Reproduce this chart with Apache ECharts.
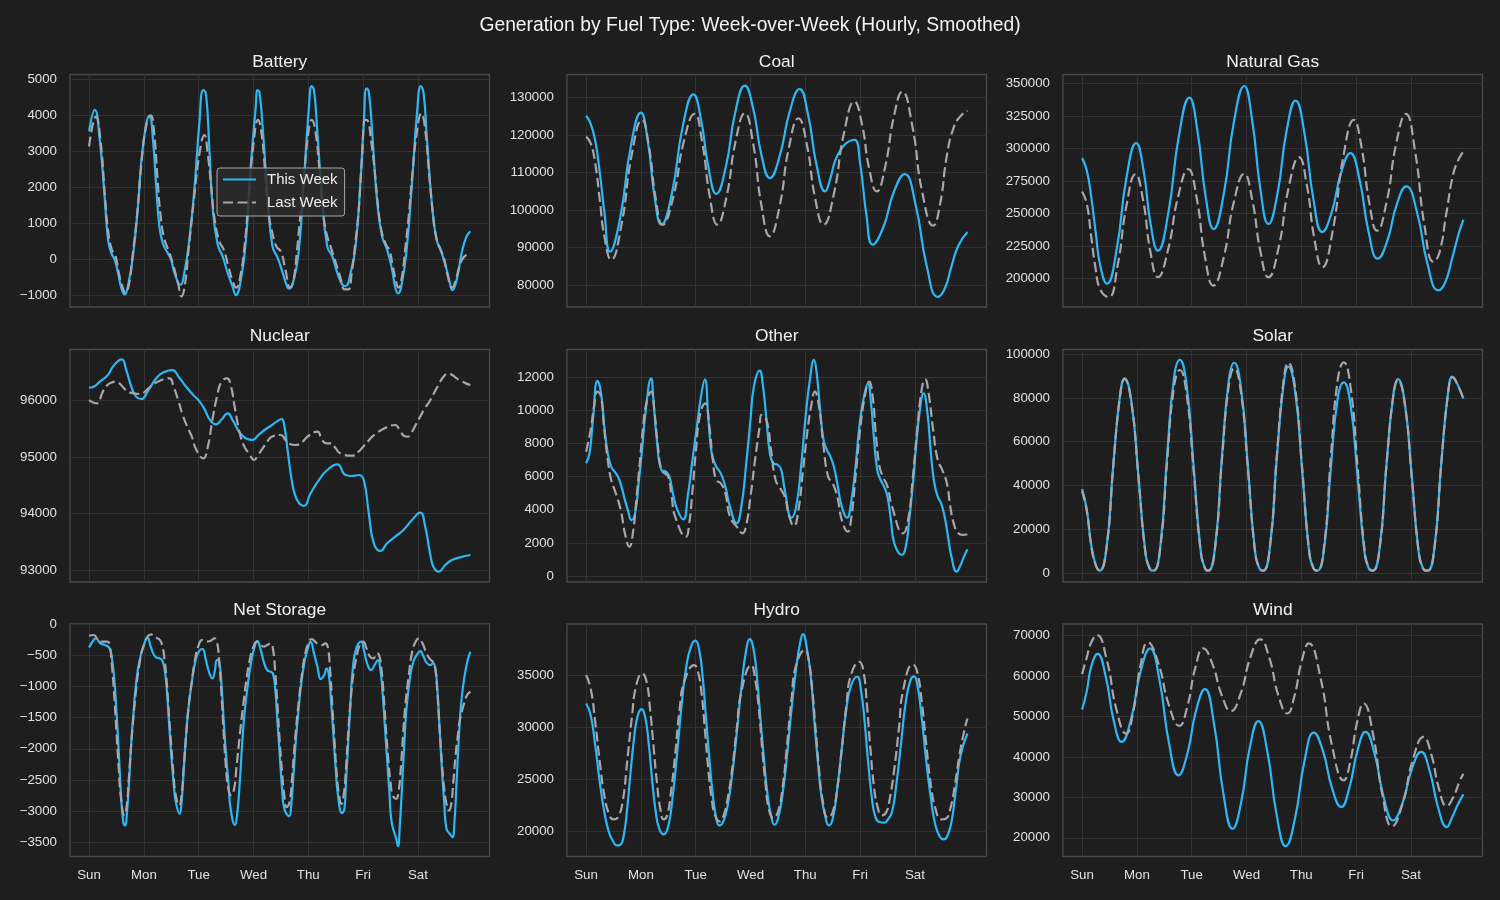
<!DOCTYPE html>
<html>
<head>
<meta charset="utf-8">
<script src="https://cdn.jsdelivr.net/npm/echarts@6/dist/echarts.min.js"></script>
<style>html,body{margin:0;padding:0;background:#1e1e1e}#c{width:1500px;height:900px}</style>
</head>
<body>
<div id="c"></div>
<script>
// ---------------- DATA (hour of week, MW) ----------------
const dayLabels = ['Sun','Mon','Tue','Wed','Thu','Fri','Sat'];
const seriesNames = ['This Week','Last Week'];
const chartTitle = 'Generation by Fuel Type: Week-over-Week (Hourly, Smoothed)';
const panelTitles = ['Battery','Coal','Natural Gas','Nuclear','Other','Solar','Net Storage','Hydro','Wind'];

const batteryThis = [[0,3550],[2.5,4150],[4.7,3300],[6.8,1740],[8.3,540],[9.7,170],[11.2,-20],[12.7,-390],[14.1,-800],[15.6,-990],[17,-760],[19.2,70],[21.4,1460],[23.6,3130],[26.5,3990],[28,3300],[29.4,2020],[30.8,900],[32.3,440],[34.4,170],[35.9,-20],[37.4,-390],[40,-720],[41.7,-390],[43.9,540],[46.1,1930],[48.3,3780],[50,4700],[51.2,4600],[52.7,3040],[54.1,1460],[56.3,400],[58.5,70],[60.7,-390],[62.8,-760],[64.3,-1010],[66.5,-570],[68.7,540],[70.8,2570],[73,4240],[73.8,4700],[74.6,4650],[76.1,3590],[78.3,1650],[80.3,350],[82.6,30],[84.8,-390],[86.9,-800],[87.6,-830],[89.7,-570],[91.9,260],[94.1,2200],[96.3,4240],[97.5,4810],[98.5,4700],[99.9,3590],[102.1,1650],[104.3,350],[106.5,70],[108.7,-390],[110.8,-710],[112.3,-760],[114.5,-390],[116.7,350],[118.8,2110],[120.3,3780],[121.5,4750],[122.5,4650],[124,3500],[126.1,1650],[128.3,630],[130.5,260],[132.7,-300],[134.1,-800],[135.3,-960],[137,-670],[139.2,350],[141.4,2110],[143.6,4050],[145.3,4810],[146.5,4610],[147.9,3400],[150.1,1560],[152.2,540],[154.4,170],[156.6,-300],[158,-670],[159.1,-870],[161,-570],[163.2,170],[165.3,630],[167,770]];
const batteryLast = [[0,3130],[3,3960],[5,3300],[7,1700],[8.5,700],[10,250],[11.5,100],[13,-380],[14.5,-750],[16,-945],[17.5,-700],[19,60],[21,1200],[23,2700],[25,3700],[27,4000],[28.5,3500],[30,2200],[31.5,1100],[33,550],[35,200],[37,-200],[39,-700],[40.5,-1040],[42,-700],[43.5,200],[46,1700],[48.5,3000],[50.5,3450],[52,2900],[53.5,2000],[55,1100],[57,500],[59,250],[61,-200],[62.8,-600],[64.5,-800],[66,-550],[68,300],[70,1800],[72,3200],[74,3870],[75.5,3500],[77,2500],[78.5,1300],[80,800],[82,350],[84,200],[86,-300],[88,-800],[89.5,-600],[91,200],[92.5,1200],[94,2200],[96,3500],[97.5,3870],[99,3600],[101,2400],[102.5,1300],[104,700],[106,300],[108,-100],[110,-500],[112,-850],[113.5,-850],[115,-400],[116.5,400],[118,1300],[119.5,2800],[121,3870],[122,3850],[123.5,3300],[125,2500],[126.5,1500],[128,800],[130,400],[131.5,250],[133,-200],[134.5,-650],[135.5,-800],[137,-500],[138.5,300],[140,1200],[141.5,2300],[143.5,3500],[145.5,4050],[147,3700],[149,2300],[150.5,1300],[152,600],[154,250],[155.5,0],[157,-450],[159,-800],[160.5,-600],[162,-250],[163.5,0],[165,100],[167,170]];

const coalThis = [[0,125100],[2,123000],[4,118500],[6,110000],[8,99500],[10.5,88900],[15,98150],[19.5,116650],[24,125900],[27,118450],[30,103550],[33,96100],[37.7,104775],[42.3,122125],[47,130800],[50.3,124175],[53.7,110925],[57,104300],[61.2,111500],[65.3,125900],[69.5,133100],[73.2,126950],[76.8,114650],[80.5,108500],[84.8,114425],[89.2,126275],[93.5,132200],[97.2,125390],[101,111760],[104.7,104950],[107,108500],[109,113000],[111.5,116000],[114,117800],[117.5,118700],[120,112500],[122.8,98500],[125.5,90800],[130.2,95490],[134.8,104860],[139.5,109550],[144.3,101390],[149.2,85060],[154,76900],[157,79000],[160,85000],[163,90500],[167,94150]];
const coalLast = [[0,119550],[2,117800],[4,112500],[6,102700],[8,93000],[11,86800],[15.5,96100],[20,114700],[24.5,124000],[27.5,117025],[30.5,103075],[33.5,96100],[38.2,103475],[42.8,118225],[47.5,125600],[50.8,118225],[54.2,103475],[57.5,96100],[61.5,103510],[65.5,118340],[69.5,125750],[73.2,117560],[76.8,101190],[80.5,93000],[84.7,100850],[88.8,116550],[93,124400],[96.7,117325],[100.3,103175],[104,96100],[108.5,104290],[113,120660],[117.5,128850],[120.8,122875],[124,110925],[127.3,104950],[131,111590],[134.8,124860],[138.5,131500],[142.8,122590],[147.2,104760],[152,95850],[155,101500],[158,114500],[161,122000],[164,125000],[167,126450]];

const gasThis = [[0,292500],[2,283500],[4,263000],[6,235000],[8,209500],[10.9,196100],[15.2,223075],[19.4,277025],[23.7,304000],[26.9,283360],[30,242090],[33.2,221450],[37.8,250840],[42.4,309610],[47,339000],[50.5,313760],[54.1,263290],[57.6,238050],[62.1,265525],[66.5,320475],[71,347950],[74.5,321440],[78.1,268410],[81.6,241900],[85.6,265600],[89.5,313000],[93.5,336700],[97.4,311460],[101.3,260990],[105.2,235750],[109.3,250890],[113.4,281160],[117.5,296300],[121.5,276050],[125.5,235550],[129.5,215300],[133.7,229160],[137.8,256890],[142,270750],[146.7,250810],[151.3,210940],[156,191000],[159,197000],[162,215000],[165,235000],[167,245200]];
const gasLast = [[0,266900],[2,257950],[4,232400],[6,206850],[8,191500],[11.6,185650],[15.5,209300],[19.5,256600],[23.4,280250],[26.7,260440],[29.9,220810],[33.2,201000],[37.6,221760],[42.1,263290],[46.5,284050],[50.2,261690],[53.8,216960],[57.5,194600],[62,216080],[66.5,259030],[71,280500],[74.5,260630],[78.1,220880],[81.6,201000],[86.1,224060],[90.5,270190],[95,293250],[98.4,272100],[101.8,229800],[105.2,208650],[109.8,236960],[114.4,293590],[119,321900],[122.4,300610],[125.8,258040],[129.2,236750],[133.4,259190],[137.6,304060],[141.8,326500],[145.8,298060],[149.9,241190],[153.9,212750],[156.5,220000],[159.5,250000],[162.5,280000],[165,292000],[167,297600]];

const nuclearThis = [[0,96224],[2,96242],[4.7,96330],[8.3,96450],[10.5,96600],[14.3,96725],[16.3,96536],[18.5,96242],[20.6,96065],[22.8,96024],[26,96183],[30,96418],[33.5,96510],[36.4,96536],[39.5,96400],[42.5,96240],[45.5,96100],[48,96000],[50.5,95850],[53,95650],[55.6,95576],[58,95660],[60.7,95770],[63,95640],[66,95430],[69,95320],[71.5,95300],[74,95380],[77,95480],[80,95560],[82,95620],[84.3,95670],[85.5,95550],[87,95100],[88.5,94650],[90,94350],[92,94180],[94.1,94132],[97,94356],[100.7,94592],[104.3,94768],[108.7,94869],[112.3,94680],[115.2,94662],[118.1,94680],[120.3,94592],[122.5,94000],[124.7,93472],[127.6,93336],[130.5,93472],[134.1,93590],[137.7,93708],[141.4,93884],[145,94014],[147.2,93767],[149.3,93295],[150.8,93059],[153.1,92971],[156,93089],[158.9,93177],[162.5,93224],[167,93266]];
const nuclearLast = [[0,96006],[2,95959],[3.5,95947],[6,96153],[8,96271],[10,96318],[12,96330],[14,96271],[16,96183],[18,96136],[20,96124],[22,96112],[24,96136],[26,96212],[28,96271],[30,96330],[35.2,96389],[37,96242],[39,96006],[41,95741],[43,95534],[45,95358],[47,95122],[50,94975],[52,95181],[54,95652],[56,96065],[58,96330],[60.5,96389],[62,96271],[64,95829],[66,95417],[68,95181],[70,95063],[72.3,94945],[74,95033],[76,95151],[78,95269],[80,95358],[84,95387],[86,95299],[88,95228],[90,95210],[92,95222],[94,95287],[96,95370],[100,95446],[102,95299],[104,95240],[106,95240],[108,95151],[110,95063],[115.2,95022],[118,95092],[120,95181],[122,95269],[124,95358],[126,95417],[128,95476],[134.1,95564],[136,95476],[138,95370],[139.5,95358],[141,95417],[143,95564],[145,95711],[147,95859],[149,95976],[151,96124],[153,96271],[155,96407],[157.4,96477],[159,96448],[161,96389],[163,96342],[165,96300],[167,96271]];

const otherThis = [[0,6810],[1.5,7410],[3,9430],[5,11780],[6.5,11100],[8,9020],[9.5,7410],[11,6610],[12.5,6300],[14,6000],[15.5,5400],[17,4600],[18.5,3890],[19.8,3380],[21.5,3800],[23,5600],[24.5,7600],[26,9830],[28.5,11940],[29.5,10630],[31,8220],[33,6400],[35,6300],[36.5,6000],[38,5000],[40,3990],[42.6,3420],[44.5,4800],[46.5,6900],[48.5,9000],[50.5,11000],[52,11880],[53.6,9430],[55,7410],[57,6610],[59,6200],[61,5400],[63,4190],[65.9,3180],[68,4190],[70,6610],[72,9430],[73.5,11440],[76,12400],[77.5,11440],[79,9430],[80.5,7410],[82,6810],[84,6710],[85.5,6400],[87,5200],[90,3520],[92,4190],[94,6400],[96,9430],[98,11840],[99.8,13050],[101,12250],[102.5,10030],[104,8220],[105.5,7610],[107,7210],[108.5,6610],[110,5600],[112,4190],[114.3,3520],[116,4390],[118,6610],[120,9430],[122,11040],[123.4,11640],[124.8,10400],[126,8420],[127.5,6400],[129,5800],[130.5,5400],[132,4790],[133.5,3380],[135,1970],[138.3,1270],[140,1770],[141.5,3380],[143,5400],[144.5,7810],[146,9830],[147.8,11040],[149.5,9830],[151,7410],[152.5,5600],[154,4790],[155.5,4390],[157,3590],[158.5,2380],[160,1170],[162.3,260],[164,665],[165.5,1170],[167,1610]];
const otherLast = [[0,7510],[2,8820],[3.5,10230],[5,11140],[6.5,10840],[8,8820],[9.5,7010],[11,5800],[12.5,5200],[14,4590],[15.5,3790],[17,2580],[19,1770],[20.5,2580],[22,4590],[23.5,6810],[25,9020],[26.5,10500],[28.5,11140],[30,9830],[31.5,7810],[33,6400],[34.5,6200],[36,6000],[37.5,4790],[39,3590],[43.8,2380],[45,2980],[46.5,5000],[48,7410],[50,9830],[52.2,10430],[54,9020],[55.5,7010],[57,5800],[59,5600],[61,5000],[63,3590],[66,2980],[68.5,2580],[70,2980],[72,4790],[74,7010],[76,9020],[76.8,9730],[79,9430],[81,7610],[83,5800],[85,5300],[87,4790],[89,3590],[91,3020],[93,3990],[95,6400],[97,8820],[98.5,10200],[100.2,11140],[102,10230],[104,7810],[106,6000],[108,5600],[110,4790],[112,3380],[114.6,2680],[116,3380],[118,6000],[120,8820],[122,10800],[124,11740],[125.5,10840],[127,8420],[128.5,6610],[130,6000],[132,5400],[134,4190],[138.8,2580],[141,3380],[143,5800],[145,8820],[147,11300],[148.5,11880],[150,11040],[152,8820],[154,7010],[156,6400],[158,5600],[159.5,4190],[161,3180],[163,2580],[165,2480],[167,2520]];

const solarThis = [[0,38450],[2,29500],[4,13000],[6,3800],[7.7,1200],[10.7,11600],[13.7,49800],[16.7,81800],[18.6,88900],[21.6,78200],[24.6,45300],[27.6,10700],[29.6,2200],[31.3,1200],[34.3,12650],[37.3,54500],[40.3,89500],[42.8,97300],[45.8,85600],[48.8,49600],[51.8,11700],[53.8,2400],[55.3,1200],[58.3,12500],[61.3,53800],[64.3,88300],[66.6,96000],[69.6,84500],[72.6,49000],[75.6,11500],[77.6,2400],[79.3,1200],[82.3,12250],[85.3,52750],[88.3,86700],[90.3,94200],[93.3,82900],[96.3,48000],[99.3,11300],[101.3,2350],[103,1200],[106,11300],[109,48800],[112,80100],[114.6,87100],[117.6,76650],[120.6,44400],[123.6,10450],[125.6,2200],[127.3,1200],[130.3,11500],[133.3,49560],[136.3,81400],[138.3,88500],[141.3,77900],[144.3,45100],[147.3,10600],[149.3,2200],[151.3,1200],[154.3,11660],[157.3,50230],[160.3,82500],[162.2,89700],[164.5,86000],[167,79650]];
const solarLast = [[0,37500],[2,29000],[4,12800],[6,3700],[7.7,1200],[10.7,11500],[13.7,49560],[16.7,81400],[18.6,88500],[21.6,77900],[24.6,45100],[27.6,10600],[29.6,2200],[31.3,1200],[34.3,12050],[37.3,51900],[40.3,85300],[42.8,92700],[45.8,81600],[48.8,47300],[51.8,11100],[53.8,2300],[55.3,1200],[58.3,12150],[61.3,52400],[64.3,86000],[66.6,93500],[69.6,82300],[72.6,47700],[75.6,11200],[77.6,2300],[79.3,1200],[82.3,12500],[85.3,53800],[88.3,88300],[90.3,96000],[93.3,84500],[96.3,49000],[99.3,11500],[101.3,2400],[103,1200],[106,12500],[109,53900],[112,88500],[114.6,96200],[117.6,84700],[120.6,49100],[123.6,11500],[125.6,2400],[127.3,1200],[130.3,11440],[133.3,49300],[136.3,81000],[138.3,88000],[141.3,77400],[144.3,44900],[147.3,10560],[149.3,2200],[151.3,1200],[154.3,11600],[157.3,50100],[160.3,82300],[162.2,89500],[164.5,85800],[167,79500]];

const storageThis = [[0,-371],[2,-252],[3,-226],[5,-306],[7,-333],[9,-387],[10,-548],[11,-870],[12,-1407],[13,-2051],[14,-2749],[15,-3179],[15.8,-3233],[16.5,-3072],[17.5,-2535],[18.5,-1890],[19.5,-1407],[20.5,-977],[22,-601],[24,-333],[25.6,-215],[27,-360],[29,-521],[31,-548],[32,-575],[33,-709],[34,-1031],[35,-1568],[36,-2105],[37,-2535],[38,-2857],[39.7,-3045],[40.5,-2857],[41.5,-2320],[42.5,-1783],[43.5,-1353],[45,-924],[46.5,-601],[48,-440],[49.7,-397],[51,-548],[52.5,-763],[54,-870],[55,-763],[56,-575],[57,-601],[58,-977],[59,-1568],[60,-2105],[61,-2535],[62,-2964],[63.9,-3222],[64.8,-3072],[66,-2535],[67,-1944],[68,-1461],[69.5,-977],[71,-601],[72.5,-360],[73.7,-269],[75,-387],[76.5,-601],[78,-736],[79.5,-763],[80.5,-789],[81.5,-1031],[82.5,-1568],[83.5,-2105],[84.5,-2642],[85.5,-2964],[87.6,-3082],[88.5,-2911],[89.5,-2427],[90.5,-1890],[91.5,-1461],[93,-924],[94.5,-575],[96,-360],[97,-279],[98.5,-467],[100,-682],[101.5,-881],[103,-816],[104,-709],[105,-816],[106,-1246],[107,-1783],[108,-2320],[109,-2749],[110.8,-3034],[111.8,-2964],[112.5,-2535],[113.5,-1890],[114.5,-1246],[115.5,-709],[117,-387],[119.1,-279],[120.5,-440],[122,-655],[123.5,-736],[125,-655],[126.5,-575],[127.5,-709],[128.5,-1085],[129.5,-1622],[130.5,-2159],[131.5,-2696],[132.5,-3179],[134.5,-3447],[135.3,-3566],[136,-3286],[137,-2642],[138,-1944],[139,-1353],[140.5,-870],[142,-601],[143.5,-494],[145,-430],[146.5,-521],[148,-628],[149.5,-655],[150.5,-628],[151.5,-682],[152.5,-1031],[153.5,-1675],[154.5,-2320],[155.5,-2857],[156.5,-3286],[158,-3367],[159.1,-3421],[160,-3179],[161,-2481],[162,-1783],[163,-1246],[164.5,-816],[166,-548],[167,-440]];
const storageLast = [[0,-183],[2,-172],[4,-252],[6,-279],[8,-279],[9,-333],[10,-655],[11,-1138],[12,-1729],[13,-2320],[14,-2803],[15.5,-3072],[16.5,-2911],[17.5,-2427],[19,-1675],[20.5,-1085],[22,-655],[24,-333],[27.2,-161],[28.5,-199],[30,-226],[31,-252],[32,-333],[33,-548],[34,-924],[35,-1461],[36,-1944],[37,-2427],[38,-2749],[39.5,-2911],[40.5,-2749],[41.5,-2266],[42.5,-1783],[43.5,-1353],[45,-924],[46.5,-548],[48,-333],[49.5,-252],[51,-279],[53,-269],[55,-226],[56,-279],[57,-601],[58,-1138],[59,-1783],[60,-2320],[61,-2642],[62.3,-2749],[63.5,-2642],[64.5,-2320],[66,-1783],[67.5,-1300],[69,-870],[70.5,-548],[72,-360],[73.5,-279],[75,-322],[76.5,-360],[78,-333],[79.5,-306],[80.5,-387],[81.5,-763],[82.5,-1300],[83.5,-1890],[84.5,-2374],[85.5,-2749],[86.5,-2937],[87.8,-2857],[89,-2427],[90,-1944],[91.5,-1353],[93,-870],[94.5,-494],[96,-306],[97.5,-236],[99,-279],[100.5,-322],[102,-333],[103.5,-306],[104.5,-360],[105.5,-709],[106.5,-1300],[107.5,-1890],[108.5,-2427],[109.5,-2749],[110.5,-2884],[111.5,-2749],[112.5,-2320],[113.5,-1729],[114.5,-1246],[115.5,-870],[117,-548],[118.5,-333],[120,-279],[121.5,-387],[123,-521],[124.5,-548],[126,-467],[127,-494],[128,-709],[129,-1138],[130,-1675],[131,-2159],[132,-2535],[133,-2749],[134.5,-2803],[135.5,-2696],[136.5,-2320],[137.5,-1783],[138.5,-1300],[140,-816],[141.5,-440],[143,-279],[144.5,-226],[146,-306],[147.5,-440],[149,-548],[150.5,-601],[151.5,-682],[152.5,-1085],[153.5,-1675],[154.5,-2212],[155.5,-2642],[156.5,-2884],[157.5,-2991],[158.5,-2911],[159.5,-2535],[160.5,-2105],[161.5,-1783],[162.5,-1514],[164,-1300],[165.5,-1138],[167,-1085]];

const hydroThis = [[0,32300],[2,31200],[4,28300],[6,24750],[8,21870],[10,19940],[12,18980],[13.5,18656],[15,18720],[16.5,19620],[18,22190],[19.5,25720],[21,28930],[22.5,31020],[24.3,31757],[26,30850],[27.5,28300],[29,24800],[30.5,21900],[32,20300],[34,19715],[36,20500],[38,23500],[40,27800],[42,32500],[44,36000],[46,37800],[47.9,38339],[49.5,37500],[51,35000],[52.5,31000],[54,27000],[55.5,23500],[57,21300],[58.3,20582],[60,20900],[62,22500],[64,25500],[66,29500],[68,33800],[70,37300],[71.7,38500],[73.5,37300],[75,34400],[76.5,30500],[78,26700],[79.5,23500],[81,21550],[82.5,20647],[84,21200],[86,23500],[88,27300],[90,31800],[92,35700],[93.7,38100],[95,38982],[96.7,37600],[98.5,34700],[100,30500],[101.5,26700],[103,23500],[104.7,21500],[106.3,20582],[108,21200],[110,24100],[112,28000],[114,31800],[116,34000],[118.7,34872],[120.5,33400],[122,30500],[123.5,26700],[125,23500],[126.5,21550],[128.5,20900],[130.6,20839],[132,21100],[134,21900],[136,24750],[138,28600],[140,32460],[142,34500],[143.6,34904],[145,34230],[147,30860],[149,26680],[151,23150],[153,20580],[155,19460],[156.5,19234],[158,19460],[160,20900],[162,24100],[164,27300],[167,29413]];
const hydroLast = [[0,35032],[2,33748],[4,30537],[6,26683],[8,23472],[10,21706],[12,21160],[14,21385],[16,22830],[18,26683],[20,30857],[22,34069],[24.6,35193],[26.5,34390],[28,31821],[29.5,28290],[31,24757],[32.5,22188],[34,21160],[35.5,21546],[37,23472],[39,27325],[41,31821],[43,34390],[47.4,35995],[49,35353],[50.5,33427],[52,29895],[53.5,26041],[55,23151],[56.5,21546],[58.5,20968],[60,21385],[62,23151],[64,26041],[66,29895],[68,33427],[72.4,35995],[74,34711],[75.5,32142],[77,28290],[78.5,24757],[80,22188],[82,21289],[84,21867],[86,24115],[88,28290],[90,32784],[92,35995],[95.9,37440],[97.5,36477],[99,33748],[100.5,29895],[102,26041],[103.5,23151],[106,21289],[108,21867],[110,24115],[112,27967],[114,32142],[116,35032],[119.7,36317],[121.5,35353],[123,32142],[124.5,27967],[126,24436],[127.5,22509],[129.5,21546],[131.5,21867],[133,23151],[135,26041],[137,29895],[139,33748],[143.1,36060],[145,35353],[147,32463],[149,28290],[151,24436],[153,22188],[155.5,21160],[157.5,21225],[159.5,22188],[161.5,24436],[163.5,27325],[165.5,29574],[167,30857]];

const windThis = [[0,51700],[2,56100],[4,62300],[6.8,65500],[10.3,60055],[13.8,49165],[17.3,43720],[21.5,49505],[25.6,61075],[29.8,66860],[33.9,59010],[38.1,43307],[42.2,35456],[46.1,40786],[49.9,51446],[53.8,56777],[57.8,48141],[61.9,30869],[65.9,22233],[69.7,28886],[73.4,42190],[77.2,48843],[81.2,41117],[85.2,25664],[89.2,17937],[93.3,24961],[97.4,39010],[101.5,46034],[105.5,41427],[109.5,32213],[113.5,27606],[117,32255],[120.6,41552],[124.1,46200],[128.1,40725],[132.2,29775],[136.2,24300],[140.3,28535],[144.4,37006],[148.5,41241],[152.2,36593],[156,27296],[159.7,22647],[162,25000],[164.5,28200],[167,30744]];
const windLast = [[0,60500],[2,64500],[4,68300],[6.5,70165],[10.8,64071],[15,51882],[19.3,45787],[22.5,51427],[25.6,62707],[28.8,68347],[33.4,63182],[38,52851],[42.6,47686],[46.1,52480],[49.6,62067],[53.1,66860],[57.1,62976],[61.2,55207],[65.2,51323],[69.5,55765],[73.7,64649],[78,69091],[82,64505],[85.9,55332],[89.9,50745],[93,55084],[96.2,63761],[99.3,68099],[104.4,59628],[109.5,42687],[114.6,34216],[117.5,38968],[120.4,48472],[123.3,53224],[127.4,45621],[131.6,30415],[135.7,22812],[140.3,28349],[144.9,39423],[149.5,44960],[152.9,40683],[156.3,32130],[159.7,27853],[162.5,30000],[165.5,34200],[167,35800]];

// ---------------- LAYOUT / STYLE ----------------
const FONT = '"Liberation Sans", Arial, Helvetica, sans-serif';
const BG = '#1e1e1e';
const BLUE = '#2cb7f5';
const GRAY = '#a6a6ac';
const GRIDC = '#333333';
const TXT = '#e0e0e0';
const colLeft = [70, 567, 1063];
const rowTop = [74.5, 349.5, 624];
const PW = 419.5, PH = 232.5;
const XMIN = -8.35, XMAX = 175.35;

const panels = [
  {d:[batteryThis, batteryLast], min:-1338, max:5134, step:1000},
  {d:[coalThis, coalLast], min:74204, max:136062, step:10000},
  {d:[gasThis, gasLast], min:178151, max:356770, step:25000},
  {d:[nuclearThis, nuclearLast], min:92788, max:96899, step:1000},
  {d:[otherThis, otherLast], min:-362, max:13681, step:2000},
  {d:[solarThis, solarLast], min:-3953, max:102052, step:20000},
  {d:[storageThis, storageLast], min:-3731, max:5, step:500},
  {d:[hydroThis, hydroLast], min:17591, max:39946, step:5000},
  {d:[windThis, windLast], min:15372, max:72893, step:10000}
];

function yFmt(step) {
  return function (v) {
    const k = Math.round(v / step);
    if (Math.abs(v - k * step) > step * 1e-6) return '';
    const n = Math.round(v);
    return n < 0 ? '\u2212' + Math.abs(n) : String(n);
  };
}
function xFmt(v) {
  const k = Math.round(v / 24);
  if (Math.abs(v - k * 24) > 1e-6 || k < 0 || k >= dayLabels.length) return '';
  return dayLabels[k];
}

const grids = [], xAxes = [], yAxes = [], series = [], graphics = [];
graphics.push({type:'text', x:750, y:26, silent:true,
  style:{text:chartTitle, fill:'#f2f2f2', font:'19.3px ' + FONT, textAlign:'center', textVerticalAlign:'middle', align:'center', verticalAlign:'middle'}});
const titleY = [61.8, 335.8, 610];

panels.forEach((p, i) => {
  const r = Math.floor(i / 3), c = i % 3;
  grids.push({left: colLeft[c], top: rowTop[r], width: PW, height: PH, show: true,
    backgroundColor: BG, borderColor: '#4a4a4a', borderWidth: 1.3, containLabel: false});
  xAxes.push({type:'value', gridIndex:i, min:XMIN, max:XMAX, minInterval:24, maxInterval:24, splitNumber:7,
    axisLine:{show:false}, axisTick:{show:false}, splitLine:{show:false},
    axisLabel:{show: r === 2, color: TXT, fontSize:13.3, fontFamily:FONT, margin:12, formatter:xFmt}});
  yAxes.push({type:'value', gridIndex:i, min:p.min, max:p.max, minInterval:p.step, maxInterval:p.step, splitNumber:6,
    axisLine:{show:false}, axisTick:{show:false},
    splitLine:{show:true, showMinLine:false, showMaxLine:false, lineStyle:{color:GRIDC, width:1}},
    axisLabel:{color: TXT, fontSize:13.3, fontFamily:FONT, margin:13, formatter:yFmt(p.step)}});
  // vertical day grid lines via the x scale
  series.push({name:'_grid', type:'line', xAxisIndex:i, yAxisIndex:i, data:[], silent:true, z:1,
    markLine:{silent:true, symbol:['none','none'], label:{show:false}, animation:false, z:1,
      lineStyle:{color:GRIDC, width:1, type:'solid'}, emphasis:{disabled:true},
      data: dayLabels.map((d, k) => ({xAxis: k * 24}))}});
  series.push({name:seriesNames[0], type:'line', xAxisIndex:i, yAxisIndex:i, data:p.d[0], smooth:true,
    symbol:'none', showSymbol:false, z:3, lineStyle:{color:BLUE, width:2.2}, itemStyle:{color:BLUE, opacity:0}});
  series.push({name:seriesNames[1], type:'line', xAxisIndex:i, yAxisIndex:i, data:p.d[1], smooth:true,
    symbol:'none', showSymbol:false, z:4, lineStyle:{color:GRAY, width:2.2, type:[10, 4.4]}, itemStyle:{color:GRAY, opacity:0}});
  graphics.push({type:'text', x: colLeft[c] + PW / 2, y: titleY[r], silent:true,
    style:{text:panelTitles[i], fill:'#f0f0f0', font:'17.4px ' + FONT, textAlign:'center', textVerticalAlign:'middle', align:'center', verticalAlign:'middle'}});
});

const chart = echarts.init(document.getElementById('c'), null, {renderer:'canvas', width:1500, height:900});
chart.setOption({
  backgroundColor: BG,
  animation: false,
  textStyle: {fontFamily: FONT},
  grid: grids, xAxis: xAxes, yAxis: yAxes, series: series,
  legend: {data: seriesNames, orient:'vertical', left:217, top:168, itemWidth:33, itemHeight:14, itemGap:8,
    padding:[4,7,6,5], backgroundColor:'rgba(44,44,44,0.85)', borderColor:'#a8a8a8', borderWidth:1, borderRadius:3,
    textStyle:{color:'#eeeeee', fontSize:15, fontFamily:FONT, padding:[0,0,0,6]}, itemStyle:{opacity:0},
    selectedMode:false, z:20},
  graphic: graphics
});
</script>
</body>
</html>
